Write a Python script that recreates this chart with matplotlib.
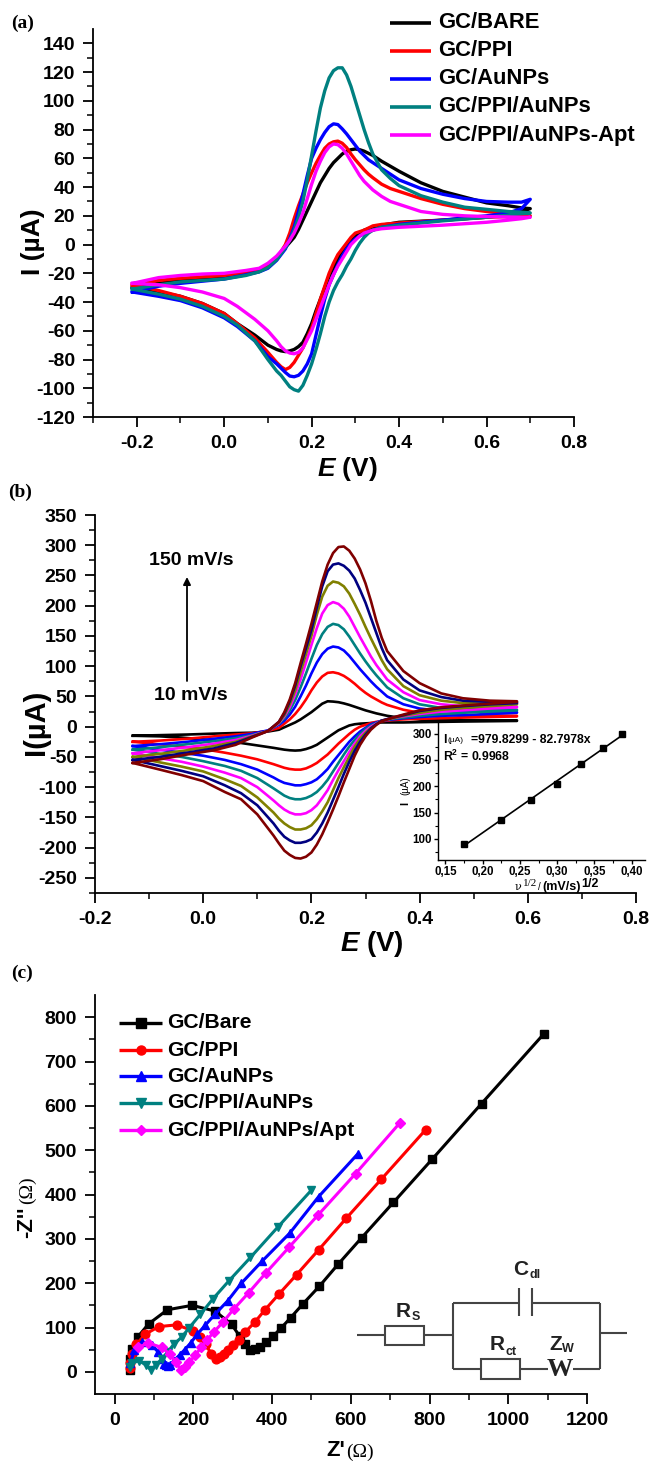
"""CV and impedance figure: (a) modified electrodes, (b) scan rates with inset, (c) Nyquist plot with circuit."""
import numpy as np
import matplotlib; matplotlib.use("Agg")
import matplotlib.pyplot as plt
from matplotlib.lines import Line2D
from matplotlib.patches import Rectangle
from matplotlib.ticker import FixedLocator, FormatStrFormatter

plt.rcParams["font.family"] = ["Liberation Sans", "DejaVu Sans"]
plt.rcParams["font.weight"] = "bold"
plt.rcParams["axes.unicode_minus"] = False
plt.rcParams["mathtext.fontset"] = "custom"
plt.rcParams["mathtext.rm"] = "Liberation Sans:bold"
plt.rcParams["mathtext.it"] = "Liberation Sans:italic:bold"
plt.rcParams["mathtext.bf"] = "Liberation Sans:bold"

W, H = 649, 1463

# ---- panel a: forward and return sweeps on shared E grids ------------------------------------------
a_labels = ["GC/BARE", "GC/PPI", "GC/AuNPs", "GC/PPI/AuNPs", "GC/PPI/AuNPs-Apt"]
a_colors = ["#000000", "#ff0000", "#0000ff", "#008080", "#ff00ff"]
a_e_fwd = [-0.21,-0.15,-0.1,-0.05,0,0.05,0.08,0.1,0.12,0.14,
           0.15,0.16,0.17,0.18,0.19,0.20,0.21,0.22,0.23,0.24,0.25,0.26,0.27,0.28,0.29,0.30,0.31,0.32,0.33,0.34,
           0.36,0.38,0.40,0.45,0.50,0.55,0.60,0.65,0.68,0.70]
a_e_rev = [0.70,0.68,0.65,0.60,0.50,0.40,0.36,0.34,
           0.33,0.32,0.31,0.30,0.29,0.28,0.27,0.26,0.25,0.24,0.23,0.22,0.21,0.20,0.19,0.18,0.17,0.16,0.15,0.14,0.13,0.12,
           0.10,0.07,0.03,0,-0.05,-0.1,-0.15,-0.21]
a_fwd = [
    [-30,-27,-25,-24,-23,-20.5,-18,-15,-9,-2,
     1.5,5,10.5,17,23.5,30,36.5,43,48,53,57,60,63,65,66,66.5,66,65,63.5,62,
     58,54.5,51,43,37,33,29,27,25.5,25],
    [-28,-25,-23.5,-22.5,-21.5,-19.5,-17.5,-15,-10,0,
     8,18,27,35,43,50,56.5,62,67,70,71.5,72,70.5,67.5,63,59,55.5,52,49,46.5,
     42,39,37,32,28,25,23,21.5,20.5,20],
    [-33,-29,-27,-25.5,-24,-21,-19,-16.5,-11,-3,
     4,12,23,35,48,60,67,73,78,82,84,83.5,80.5,77,73,69,65,62,59,57,
     53,49,45,39,35,32,30,29.5,29.5,31.5],
    [-31,-28,-26,-25,-24,-21.5,-19,-16,-10.5,-2,
     3,10,19,30,45,62,79,95,107,116,121,123,123,118,110,100,90,80,71,63,
     52,46,41,34,29.5,26,24.5,23,22.5,22],
    [-27,-23,-21.5,-20.5,-20,-18,-16.5,-13,-8,-1,
     3,8,14.5,22,32,42,51,58,64,68,70,69.5,67,63,58,53,48,44,41,38,
     33.5,30,28,23,21,20,19.5,19.2,19,19],
]
a_rev = [
    [25,23,21,19,17,15.5,13.5,12,
     11,10,8,6,3,-1,-5,-10,-16,-22,-30,-38,-46,-55,-62,-68,-71,-73,-74,-74.5,-74,-73,
     -70,-63,-55,-48,-41,-36,-33,-30],
    [20,19.8,19.5,19,17,15,14,13,
     11.5,10,9,8,5,1,-3,-7,-13,-20,-29,-38,-48,-58,-65,-72,-77,-82,-85.5,-87,-85,-82,
     -75,-65,-55,-48,-41,-36,-32,-28],
    [31.5,25,22,20,17,14,12,10,
     9,7.5,6,4,1,-3,-8,-14,-21,-28,-38,-50,-63,-76,-83,-88,-91,-92,-91.5,-89,-86,-83,
     -78,-67,-57,-51,-44,-39,-36,-33],
    [22,21.5,20.5,19,16.5,13.5,12,10,
     8,5,1,-4,-10,-15,-21,-26,-32,-40,-50,-62,-73,-83,-91,-98,-102,-101,-99,-95,-91,-88,
     -80,-67,-56,-50,-43,-38,-34.5,-31],
    [19,18,17,15.5,13.5,12,11,10,
     9,8,6,3,0,-5,-10,-15,-21,-28,-36,-44,-52,-60,-66,-72,-75,-76,-75.5,-74,-71,-67,
     -60,-52,-43,-37.5,-33,-30,-28,-27],
]
a_xticks = [-0.2, 0.0, 0.2, 0.4, 0.6, 0.8]
a_yticks = [-120,-100,-80,-60,-40,-20,0,20,40,60,80,100,120,140]

# ---- panel b: eight scan rates on shared E grids ---------------------------------------------------
b_colors = ["#000000", "#ff0000", "#0000ff", "#008080", "#ff00ff", "#808000", "#000080", "#800000"]
b_e_fwd = [-0.13,-0.08,-0.03,0.02,0.06,0.09,0.12,
           0.14,0.15,0.16,0.17,0.18,0.19,0.20,0.21,0.22,0.23,0.24,0.25,0.26,0.27,0.28,0.29,0.30,0.31,0.32,0.33,0.34,
           0.37,0.40,0.44,0.48,0.53,0.58]
b_e_rev = [0.58,0.53,0.48,0.44,0.40,0.37,0.35,
           0.33,0.32,0.31,0.30,0.29,0.28,0.27,0.26,0.25,0.24,0.23,0.22,0.21,0.20,0.19,0.18,0.17,0.16,0.15,0.14,0.13,
           0.10,0.07,0.04,0.0,-0.04,-0.08,-0.13]
b_fwd = [
    [-15,-14,-13,-11.5,-10.5,-10,-8,
     -5,-1,3,7,12,18,24,31,38,42,41.5,40.5,38.5,36,33,30,27,24.5,22,20,18,
     14,12,11,10.5,10.5,10.5],
    [-25,-23,-20,-16,-13,-11,-7,
     -2,5,12,21,32,45,60,73,83,89,90,88,84,78,71,63,56,50,45,40,36,
     28,23,20,19,18.5,18],
    [-32,-29,-25,-20,-16,-12,-6,
     3,10,20,33,50,68,88,106,120,129,132.5,131,126,117,106,95,85,75,66,58,50,
     37,30,26,25,24.5,24],
    [-38,-34,-29,-24,-19,-14,-7,
     5,14,27,44,65,88,112,135,153,165,170,168,161,149,135,121,108,96,85,75,65,
     47,37,31,29,28,28],
    [-44,-39,-34,-28,-22,-15,-7,
     6,17,32,53,78,106,135,163,187,201,206,203,195,182,165,148,132,116,102,90,78,
     57,44,37,34,33,33],
    [-50,-45,-39,-32,-25,-16,-7,
     7,19,37,60,90,120,150,185,215,233,240,238,232,220,203,185,165,146,128,110,95,
     67,52,43,39,38,38],
    [-55,-50,-43,-36,-27,-17,-7,
     8,22,42,68,100,130,160,197,232,257,268,270,266,258,245,226,205,180,155,130,110,
     78,60,49,43,41,40],
    [-60,-54,-46,-39,-30,-18,-7,
     8,24,45,72,105,137,170,205,240,268,287,297,298,291,278,260,237,208,175,147,125,
     92,72,55,47,43,42],
]
b_rev = [
    [9.5,9,8.5,8,7.5,7,7,
     7,6.5,6,5.5,5,4,2,-2,-6,-12,-18,-24,-30,-34,-37,-39,-39.5,-39,-38,-36.5,-35,
     -31,-27,-25,-21,-18,-16,-15],
    [17,16,15,14,13,12,11,
     9,8,6,3,0,-5,-12,-20,-28,-37,-46,-53,-60,-65,-69,-71,-71,-70,-68,-65,-62,
     -54,-48,-43,-37,-33,-29,-25],
    [23,21,19,18,16,14,12,
     10,7,4,-2,-8,-16,-25,-36,-47,-58,-70,-79,-87,-92,-95,-97,-97,-95,-93,-89,-84,
     -71,-62,-55,-48,-43,-38,-32],
    [27,25,23,21,18,15,13,
     10,6,2,-4,-12,-22,-33,-46,-60,-74,-88,-99,-108,-114,-118,-120,-120,-118,-114,-108,-102,
     -85,-73,-65,-57,-50,-45,-38],
    [32,30,27,25,21,17,14,
     10,5,0,-7,-16,-28,-42,-57,-72,-88,-105,-118,-130,-138,-143,-145,-145,-142,-137,-130,-122,
     -100,-85,-76,-66,-58,-52,-44],
    [37,34,31,28,23,18,14,
     10,4,-2,-10,-20,-33,-50,-67,-85,-105,-125,-140,-153,-163,-168,-170,-170,-166,-160,-152,-142,
     -117,-98,-87,-74,-66,-59,-50],
    [39,37,34,31,26,19,15,
     10,4,-3,-13,-25,-40,-58,-78,-100,-121,-142,-160,-175,-186,-190,-192,-192,-188,-182,-172,-160,
     -130,-110,-97,-82,-73,-65,-55],
    [41,38,35,32,27,20,15,
     9,3,-5,-16,-30,-48,-70,-92,-115,-137,-158,-178,-195,-208,-215,-218,-217,-212,-205,-193,-180,
     -145,-120,-108,-90,-80,-71,-60],
]
b_xticks = [-0.2, 0.0, 0.2, 0.4, 0.6, 0.8]
b_yticks = [-250,-200,-150,-100,-50,0,50,100,150,200,250,300,350]
ins_x = [0.175, 0.224, 0.265, 0.30, 0.332, 0.361, 0.387]
ins_y = [91, 135, 173, 205, 243, 272, 299]
ins_xticks = [0.15, 0.20, 0.25, 0.30, 0.35, 0.40]
ins_yticks = [100, 150, 200, 250, 300]

# ---- panel c: Nyquist -------------------------------------------------------------------------------
c_labels = ["GC/Bare", "GC/PPI", "GC/AuNPs", "GC/PPI/AuNPs", "GC/PPI/AuNPs/Apt"]
c_colors = ["#000000", "#ff0000", "#0000ff", "#008080", "#ff00ff"]
c_markers = ["s", "o", "^", "v", "D"]
c_bare_x = [38,40,45,58,86,134,197,255,297,318,330,345,357,370,385,402,422,447,478,520,568,628,708,807,932,1090]
c_bare_y = [5,30,52,78,108,140,150,137,107,80,62,50,51,57,67,80,98,122,153,193,243,303,382,480,605,762]
c_ppi_x = [38,40,45,55,78,112,158,200,218,232,245,258,268,277,288,300,315,332,356,382,418,462,518,588,677,790]
c_ppi_y = [8,20,40,62,85,102,106,92,78,62,40,28,33,40,50,60,72,90,112,140,176,219,275,346,434,546]
c_au_x = [40,50,70,95,110,120,125,130,135,140,150,165,178,193,210,230,255,287,322,375,445,518,618]
c_au_y = [20,50,68,60,45,28,18,15,13,15,25,38,50,65,85,105,130,160,200,250,313,395,492]
c_pa_x = [38,45,62,80,92,105,120,135,150,170,190,218,250,290,345,415,500]
c_pa_y = [12,20,25,15,5,15,30,45,62,78,100,130,165,205,258,327,410]
c_apt_x = [60,85,120,140,155,168,178,190,205,220,235,252,275,302,340,385,443,517,612,725]
c_apt_y = [55,65,55,40,22,5,12,22,38,55,72,90,112,141,178,224,281,354,447,562]
c_xticks = [0, 200, 400, 600, 800, 1000, 1200]
c_yticks = [0, 100, 200, 300, 400, 500, 600, 700, 800]


def add_ax(l, t, r, b):
    return fig.add_axes([l / W, 1 - b / H, (r - l) / W, (b - t) / H])

def style(ax, xl, yl, xt, yt, xminor, yminor, fs=14, fmt="%.1f"):
    ax.set_xlim(*xl); ax.set_ylim(*yl)
    ax.spines[["top", "right"]].set_visible(False)
    ax.spines[["left", "bottom"]].set_linewidth(1.3)
    ax.xaxis.set_major_locator(FixedLocator(xt)); ax.yaxis.set_major_locator(FixedLocator(yt))
    ax.xaxis.set_minor_locator(FixedLocator(xminor)); ax.yaxis.set_minor_locator(FixedLocator(yminor))
    ax.xaxis.set_major_formatter(FormatStrFormatter(fmt))
    ax.tick_params(which="major", length=7, width=1.3, labelsize=fs, pad=6)
    ax.tick_params(which="minor", length=4, width=1.1)
    ax.patch.set_alpha(0)

def txt(x, y, s, **kw):
    kw.setdefault("ha", "center"); kw.setdefault("va", "center")
    return fig.text(x / W, 1 - y / H, s, **kw)

def seg(x0, y0, x1, y1, **kw):
    kw.setdefault("color", "#000000"); kw.setdefault("lw", 1.8)
    fig.add_artist(Line2D([x0 / W, x1 / W], [1 - y0 / H, 1 - y1 / H], solid_capstyle="butt", **kw))


fig = plt.figure(figsize=(W / 100, H / 100), dpi=100)

# ---- (a)
ax = add_ax(93, 29, 574, 417)
style(ax, (-0.3, 0.8), (-120, 150), a_xticks, a_yticks, [-0.3, -0.1, 0.1, 0.3, 0.5, 0.7], list(range(-110, 150, 20)))
for f, r, c in zip(a_fwd, a_rev, a_colors):
    ax.plot(a_e_fwd + a_e_rev, f + r, color=c, lw=2.4, solid_joinstyle="round")
for lbl, c, y in zip(a_labels, a_colors, [23, 51, 79, 107, 135]):
    seg(390, y, 431, y, color=c, lw=2.6)
    txt(438, y, lbl, ha="left", fontsize=15.8)
txt(11, 23, "(a)", ha="left", family="Liberation Serif", fontsize=14)
txt(347, 469, r"$\mathit{E}$ (V)", fontsize=19)
txt(33, 242, "I (µA)", rotation=90, fontsize=19)

# ---- (b)
ax = add_ax(95, 515, 636, 893)
style(ax, (-0.2, 0.8), (-275, 350), b_xticks, b_yticks, [-0.1, 0.1, 0.3, 0.5, 0.7], list(range(-275, 350, 50)))
for f, r, c in zip(b_fwd, b_rev, b_colors):
    ax.plot(b_e_fwd + b_e_rev, f + r, color=c, lw=1.9, solid_joinstyle="round")
txt(191, 561, "150 mV/s", fontsize=14)
txt(191, 695, "10 mV/s", fontsize=14)
ax.annotate("", xy=(187 / W, 1 - 577 / H), xytext=(187 / W, 1 - 681 / H), xycoords="figure fraction", textcoords="figure fraction",
            arrowprops=dict(arrowstyle="-|>", color="#000000", lw=1.3, mutation_scale=11, shrinkA=0, shrinkB=0))
txt(8, 492, "(b)", ha="left", family="Liberation Serif", fontsize=14)
txt(372, 944, r"$\mathit{E}$ (V)", fontsize=20)
txt(36, 722, "I(µA)", rotation=90, fontsize=21)

# inset: peak current against root of scan rate
ax = add_ax(438, 723, 645, 860)
style(ax, (0.14, 0.418), (60, 320), ins_xticks, ins_yticks, [0.175, 0.225, 0.275, 0.325, 0.375], [75, 125, 175, 225, 275], fs=8.3, fmt="%.2f")
ax.set_xticklabels([("%.2f" % t).replace(".", ",") for t in ins_xticks])
ax.tick_params(which="major", length=3, width=1, pad=1.5); ax.tick_params(which="minor", length=2, width=0.8)
ax.spines[["left", "bottom"]].set_linewidth(1)
p = np.polyfit(ins_x, ins_y, 1)
ax.plot([ins_x[0], ins_x[-1]], np.polyval(p, [ins_x[0], ins_x[-1]]), color="#000000", lw=1.2)
ax.plot(ins_x, ins_y, "s", color="#000000", ms=4.5)
txt(443, 740, "I", ha="left", fontsize=8.8)
txt(447, 741, "(µA)", ha="left", fontsize=6, fontweight="normal")
txt(471, 740, "=979.8299 - 82.7978x", ha="left", fontsize=8.8)
txt(443, 756, r"R$^{2}$ = 0.9968", ha="left", fontsize=8.8)
txt(405, 803, "I", rotation=90, fontsize=8)
txt(405, 786, "(µA)", rotation=90, fontsize=7, fontweight="normal")
txt(518, 887, "ν", fontsize=8, fontweight="normal", family="DejaVu Serif")
txt(530, 884, "1/2", fontsize=8, fontweight="normal", family="Liberation Serif")
txt(539, 887, "/", fontsize=7, fontweight="normal")
txt(562, 887, "(mV/s)", fontsize=9)
txt(590, 884, "1/2", fontsize=9)

# ---- (c)
ax = add_ax(95, 995, 587, 1394)
style(ax, (-50, 1200), (-50, 850), c_xticks, c_yticks, list(range(100, 1200, 200)), list(range(50, 850, 100)), fmt="%d")
c_series = [(c_bare_x, c_bare_y), (c_ppi_x, c_ppi_y), (c_au_x, c_au_y), (c_pa_x, c_pa_y), (c_apt_x, c_apt_y)]
for (x, y), c, m in zip(c_series, c_colors, c_markers):
    ax.plot(x, y, "-", color=c, marker=m, lw=2.2, ms=6.3 if m != "D" else 5.5, solid_joinstyle="round")
for lbl, c, m, y in zip(c_labels, c_colors, c_markers, [1023, 1050, 1076, 1103, 1130]):
    seg(119, y, 162, y, color=c, lw=2.4)
    fig.add_artist(Line2D([140.5 / W], [1 - y / H], marker=m, color=c, ms=6.5 if m != "D" else 5.5, ls=""))
    txt(167, y, lbl, ha="left", fontsize=15.2)
txt(11, 973, "(c)", ha="left", family="Liberation Serif", fontsize=14)
txt(326, 1451, "Z'", ha="left", fontsize=16)
txt(346, 1452, "(Ω)", ha="left", fontsize=14, fontweight="normal", family="Liberation Serif")
txt(27, 1222, "-Z''", rotation=90, fontsize=16)
txt(27, 1190, "(Ω)", rotation=90, fontsize=14, fontweight="normal", family="Liberation Serif")

# equivalent circuit, in image pixels
gx = lambda v: 340 + v / 3
gy = lambda v: 1260 + v / 3
wires = [(52, 226, 135, 226), (253, 226, 338, 226), (338, 128, 338, 326), (338, 128, 538, 128), (538, 85, 538, 168),
         (575, 85, 575, 168), (575, 128, 780, 128), (780, 128, 780, 326), (338, 326, 422, 326), (540, 326, 625, 326),
         (700, 326, 780, 326), (780, 218, 862, 218)]
for x0, y0, x1, y1 in wires:
    seg(gx(x0), gy(y0), gx(x1), gy(y1), color="#444444", lw=1.5)
for x0, y0, x1, y1 in [(135, 197, 253, 256), (422, 298, 540, 358)]:
    fig.add_artist(Rectangle((gx(x0) / W, 1 - gy(y1) / H), (x1 - x0) / 3 / W, (y1 - y0) / 3 / H, transform=fig.transFigure,
                             fill=False, edgecolor="#444444", lw=1.5))
txt(gx(660), gy(328), "W", family="Liberation Serif", fontsize=19, color="#222222")
circ = [(520, 28, "C", 15), (568, 44, "dl", 9), (167, 155, "R", 15), (214, 172, "S", 9), (450, 255, "R", 15), (497, 275, "ct", 9),
        (627, 255, "Z", 15), (667, 266, "W", 9)]
for x, y, s, fs in circ:
    txt(gx(x), gy(y), s, ha="left", fontsize=fs, color="#222222")

fig.savefig("out.png", dpi=100)
